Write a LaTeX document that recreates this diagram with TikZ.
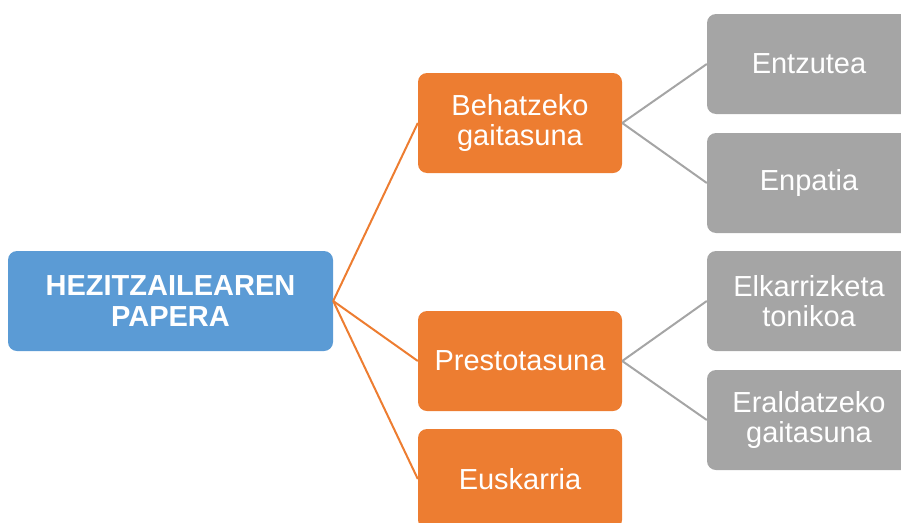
\documentclass[tikz,border=0pt]{standalone}
\usepackage{fontspec}
\setmainfont{Liberation Sans}
\definecolor{rootblue}{HTML}{5B9BD5}
\definecolor{orng}{HTML}{ED7D31}
\definecolor{gry}{HTML}{A5A5A5}
\begin{document}
\begin{tikzpicture}[x=1pt,y=-1pt,
  box/.style={rounded corners=9pt, minimum height=100pt, text=white, align=center, inner sep=0pt, font=\fontsize{29}{30}\selectfont},
  rootbox/.style={box, fill=rootblue, minimum width=325pt, font=\bfseries\fontsize{29}{31}\selectfont},
  lvlone/.style={box, fill=orng, minimum width=204pt},
  lvltwo/.style={box, fill=gry, minimum width=204pt},
  oline/.style={draw=orng, line width=2pt},
  gline/.style={draw=gry, line width=2pt}]
\useasboundingbox (0,0) rectangle (901,522);
\clip (0,0) rectangle (901,522);
\node[rootbox] (root) at (170.5,301) {HEZITZAILEAREN\\PAPERA};
\node[lvlone] (beh) at (520,123) {Behatzeko\\gaitasuna};
\node[lvlone] (pre) at (520,361) {Prestotasuna};
\node[lvlone] (eus) at (520,479) {Euskarria};
\node[lvltwo] (ent) at (809,64) {Entzutea};
\node[lvltwo] (enp) at (809,183) {Enpatia};
\node[lvltwo] (elk) at (809,301) {Elkarrizketa\\tonikoa};
\node[lvltwo] (era) at (809,420) {Eraldatzeko\\gaitasuna};
\draw[oline] (root.east) -- (beh.west);
\draw[oline] (root.east) -- (pre.west);
\draw[oline] (root.east) -- (eus.west);
\draw[gline] (beh.east) -- (ent.west);
\draw[gline] (beh.east) -- (enp.west);
\draw[gline] (pre.east) -- (elk.west);
\draw[gline] (pre.east) -- (era.west);
\end{tikzpicture}
\end{document}
